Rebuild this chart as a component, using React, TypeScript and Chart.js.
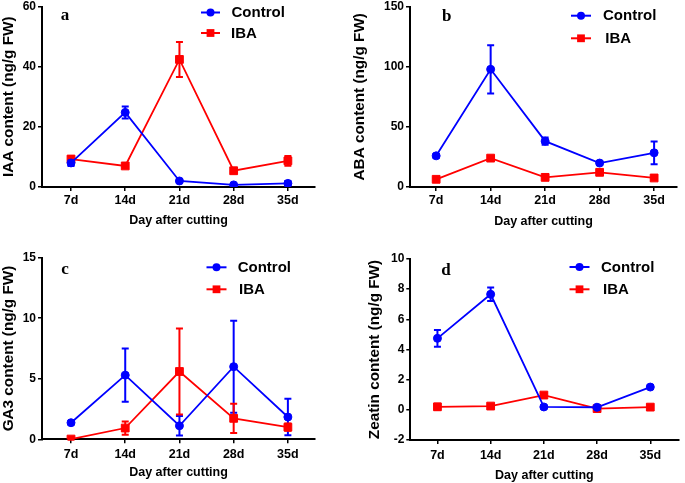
import React, { useEffect, useRef } from 'react';
import { Chart, registerables } from 'chart.js';
Chart.register(...registerables);

const categories = ['7d', '14d', '21d', '28d', '35d'];
const seriesNames = ['Control', 'IBA'];
const xTitle = 'Day after cutting';

const iaaControl = [8.0, 24.8, 2.0, 0.7, 1.2];
const iaaControlErr = [1.0, 2.0, 0.4, 0.3, 0.8];
const iaaIBA = [9.3, 7.0, 42.4, 5.4, 8.7];
const iaaIBAErr = [1.0, 0.6, 5.8, 0.6, 1.6];

const abaControl = [25.9, 97.8, 38.1, 19.9, 28.4];
const abaControlErr = [1.5, 20.0, 3.0, 1.5, 9.5];
const abaIBA = [6.4, 24.0, 8.0, 12.2, 7.5];
const abaIBAErr = [1.0, 1.5, 1.0, 1.5, 1.0];

const ga3Control = [1.37, 5.3, 1.12, 6.0, 1.84];
const ga3ControlErr = [0.15, 2.2, 0.8, 3.8, 1.5];
const ga3IBA = [0.02, 0.93, 5.6, 1.73, 1.0];
const ga3IBAErr = [0.05, 0.55, 3.55, 1.2, 0.3];

const zeatinControl = [4.74, 7.66, 0.19, 0.17, 1.51];
const zeatinControlErr = [0.56, 0.45, 0.1, 0.1, 0.1];
const zeatinIBA = [0.2, 0.25, 0.98, 0.08, 0.18];
const zeatinIBAErr = [0.2, 0.1, 0.1, 0.05, 0.1];

const BLUE = '#0000FF';
const RED = '#FF0000';
const SANS = "'Liberation Sans', Arial, sans-serif";
const SERIF = "'Liberation Serif', 'Times New Roman', serif";

const panels = [
  {
    letter: 'a', yTitle: 'IAA content (ng/g FW)', yMin: 0, yMax: 60, yStep: 20,
    control: iaaControl, controlErr: iaaControlErr, iba: iaaIBA, ibaErr: iaaIBAErr,
    left: 0, top: 0, w: 342, h: 240,
    area: { left: 42, top: 6, right: 315, bottom: 187 },
    xMin: 0.465, xMax: 5.5, yTitlePad: 0, xTickPad: 2, xTitlePad: 12,
    leg: { x1: 201, x2: 220, tx: 231.5, y1: 12.5, tx2: 231, y2: 33 },
    lp: { x: 65, y: 16 },
  },
  {
    letter: 'b', yTitle: 'ABA content (ng/g FW)', yMin: 0, yMax: 150, yStep: 50,
    control: abaControl, controlErr: abaControlErr, iba: abaIBA, ibaErr: abaIBAErr,
    left: 342, top: 0, w: 343, h: 240,
    area: { left: 68, top: 6, right: 335, bottom: 187 },
    xMin: 0.52, xMax: 5.42, yTitlePad: 9.5, xTickPad: 2, xTitlePad: 11,
    leg: { x1: 229, x2: 249, tx: 261, y1: 15.7, tx2: 263.3, y2: 38.3 },
    lp: { x: 104.7, y: 16.7 },
  },
  {
    letter: 'c', yTitle: 'GA3 content (ng/g FW)', yMin: 0, yMax: 15, yStep: 5,
    control: ga3Control, controlErr: ga3ControlErr, iba: ga3IBA, ibaErr: ga3IBAErr,
    left: 0, top: 240, w: 342, h: 243,
    area: { left: 42, top: 17.7, right: 315, bottom: 199.3 },
    xMin: 0.465, xMax: 5.5, yTitlePad: 0, xTickPad: 4, xTitlePad: 2.5,
    leg: { x1: 206.5, x2: 226.5, tx: 237.7, y1: 27.3, tx2: 239, y2: 49.3 },
    lp: { x: 65, y: 29.3 },
  },
  {
    letter: 'd', yTitle: 'Zeatin content (ng/g FW)', yMin: -2, yMax: 10, yStep: 2,
    control: zeatinControl, controlErr: zeatinControlErr, iba: zeatinIBA, ibaErr: zeatinIBAErr,
    left: 342, top: 240, w: 343, h: 243,
    area: { left: 68.3, top: 19, right: 342.3, bottom: 200 },
    xMin: 0.49, xMax: 5.53, yTitlePad: 24.5, xTickPad: 4, xTitlePad: 0,
    leg: { x1: 227.5, x2: 247.5, tx: 259, y1: 27, tx2: 261, y2: 49.3 },
    lp: { x: 104, y: 30.7 },
  },
];

const errorBarPlugin = {
  id: 'errbars',
  beforeDatasetsDraw(chart: any) {
    const ctx = chart.ctx;
    const xs = chart.scales.x;
    const ys = chart.scales.y;
    chart.data.datasets.forEach((ds: any) => {
      ctx.save();
      ctx.strokeStyle = ds.borderColor;
      ctx.lineWidth = 2;
      ds.errors.forEach((e: number, i: number) => {
        const pt = ds.data[i];
        const x = xs.getPixelForValue(pt.x);
        const yt = ys.getPixelForValue(pt.y + e);
        const yb = ys.getPixelForValue(pt.y - e);
        ctx.beginPath();
        ctx.moveTo(x, yt);
        ctx.lineTo(x, yb);
        ctx.moveTo(x - 3.5, yt);
        ctx.lineTo(x + 3.5, yt);
        ctx.moveTo(x - 3.5, yb);
        ctx.lineTo(x + 3.5, yb);
        ctx.stroke();
      });
      ctx.restore();
    });
  },
};

function makeDecor(p: any) {
  return {
    id: 'decor' + p.letter,
    afterDraw(chart: any) {
      const ctx = chart.ctx;
      ctx.save();
      ctx.fillStyle = '#000';
      ctx.font = `bold 17px ${SERIF}`;
      ctx.textAlign = 'center';
      ctx.textBaseline = 'middle';
      ctx.fillText(p.letter, p.lp.x, p.lp.y);
      const rows = [
        { y: p.leg.y1, tx: p.leg.tx, color: BLUE, style: 'circle', r: 4, name: seriesNames[0] },
        { y: p.leg.y2, tx: p.leg.tx2, color: RED, style: 'rect', r: 5.5, name: seriesNames[1] },
      ];
      rows.forEach((row) => {
        ctx.strokeStyle = row.color;
        ctx.fillStyle = row.color;
        ctx.lineWidth = 2;
        ctx.beginPath();
        ctx.moveTo(p.leg.x1, row.y);
        ctx.lineTo(p.leg.x2, row.y);
        ctx.stroke();
        const cx = (p.leg.x1 + p.leg.x2) / 2;
        if (row.style === 'circle') {
          ctx.beginPath();
          ctx.arc(cx, row.y, row.r, 0, Math.PI * 2);
          ctx.fill();
        } else {
          const s = row.r * Math.SQRT1_2;
          ctx.fillRect(cx - s, row.y - s, 2 * s, 2 * s);
        }
        ctx.fillStyle = '#000';
        ctx.font = `bold 15px ${SANS}`;
        ctx.textAlign = 'left';
        ctx.textBaseline = 'middle';
        ctx.fillText(row.name, row.tx, row.y + 0.5);
      });
      ctx.restore();
    },
  };
}

function Panel({ p }: { p: any }) {
  const ref = useRef<HTMLCanvasElement>(null);
  useEffect(() => {
    const mk = (name: string, vals: number[], errs: number[], color: string, style: string, r: number) => ({
      label: name,
      data: categories.map((_, i) => ({ x: i + 1, y: vals[i] })),
      errors: errs,
      borderColor: color,
      backgroundColor: color,
      pointBackgroundColor: color,
      pointBorderColor: color,
      pointStyle: style,
      pointRadius: r,
      pointBorderWidth: 1,
      borderWidth: 1.8,
      tension: 0,
      fill: false,
    });
    const chart = new Chart(ref.current as HTMLCanvasElement, {
      type: 'line',
      data: {
        datasets: [
          mk(seriesNames[0], p.control, p.controlErr, BLUE, 'circle', 4),
          mk(seriesNames[1], p.iba, p.ibaErr, RED, 'rect', 5.5),
        ] as any,
      },
      options: {
        responsive: false,
        animation: false,
        devicePixelRatio: 1,
        layout: { padding: { left: 0, top: p.area.top, right: p.w - p.area.right, bottom: 0 } },
        plugins: { legend: { display: false }, tooltip: { enabled: false } },
        scales: {
          x: {
            type: 'linear',
            min: p.xMin,
            max: p.xMax,
            afterBuildTicks: (s: any) => {
              s.ticks = categories.map((_, i) => ({ value: i + 1 }));
            },
            afterFit: (s: any) => {
              s.height = p.h - p.area.bottom;
              s.paddingLeft = 0;
              s.paddingRight = 0;
            },
            ticks: {
              callback: (v: any) => categories[Math.round(Number(v)) - 1] ?? '',
              color: '#000',
              font: { family: SANS, size: 12.5, weight: 'bold', lineHeight: 1.2 },
              padding: p.xTickPad,
              maxRotation: 0,
              autoSkip: false,
            },
            grid: { display: true, drawOnChartArea: false, drawTicks: true, tickLength: 4, color: '#000', lineWidth: 1.5 },
            border: { display: true, color: '#000', width: 2 },
            title: {
              display: true,
              text: xTitle,
              color: '#000',
              font: { family: SANS, size: 12.5, weight: 'bold', lineHeight: 1.2 },
              padding: { top: 0, bottom: p.xTitlePad },
            },
          },
          y: {
            type: 'linear',
            min: p.yMin,
            max: p.yMax,
            afterFit: (s: any) => {
              s.width = p.area.left;
              s.paddingTop = 0;
              s.paddingBottom = 0;
            },
            ticks: { stepSize: p.yStep, color: '#000', font: { family: SANS, size: 12, weight: 'bold', lineHeight: 1.2 }, padding: 2 },
            grid: { display: true, drawOnChartArea: false, drawTicks: true, tickLength: 4, color: '#000', lineWidth: 1.5 },
            border: { display: true, color: '#000', width: 2 },
            title: {
              display: true,
              text: p.yTitle,
              color: '#000',
              font: { family: SANS, size: 15.3, weight: 'bold', lineHeight: 1.1 },
              padding: { top: p.yTitlePad, bottom: 0 },
            },
          },
        },
      } as any,
      plugins: [errorBarPlugin, makeDecor(p)],
    });
    return () => chart.destroy();
  }, []);
  return (
    <canvas
      ref={ref}
      width={p.w}
      height={p.h}
      style={{ position: 'absolute', left: p.left, top: p.top, width: p.w, height: p.h }}
    />
  );
}

export default function App() {
  return (
    <div style={{ position: 'absolute', left: 0, top: 0, width: 685, height: 483, background: '#fff', overflow: 'hidden' }}>
      {panels.map((p) => (
        <Panel key={p.letter} p={p} />
      ))}
    </div>
  );
}
